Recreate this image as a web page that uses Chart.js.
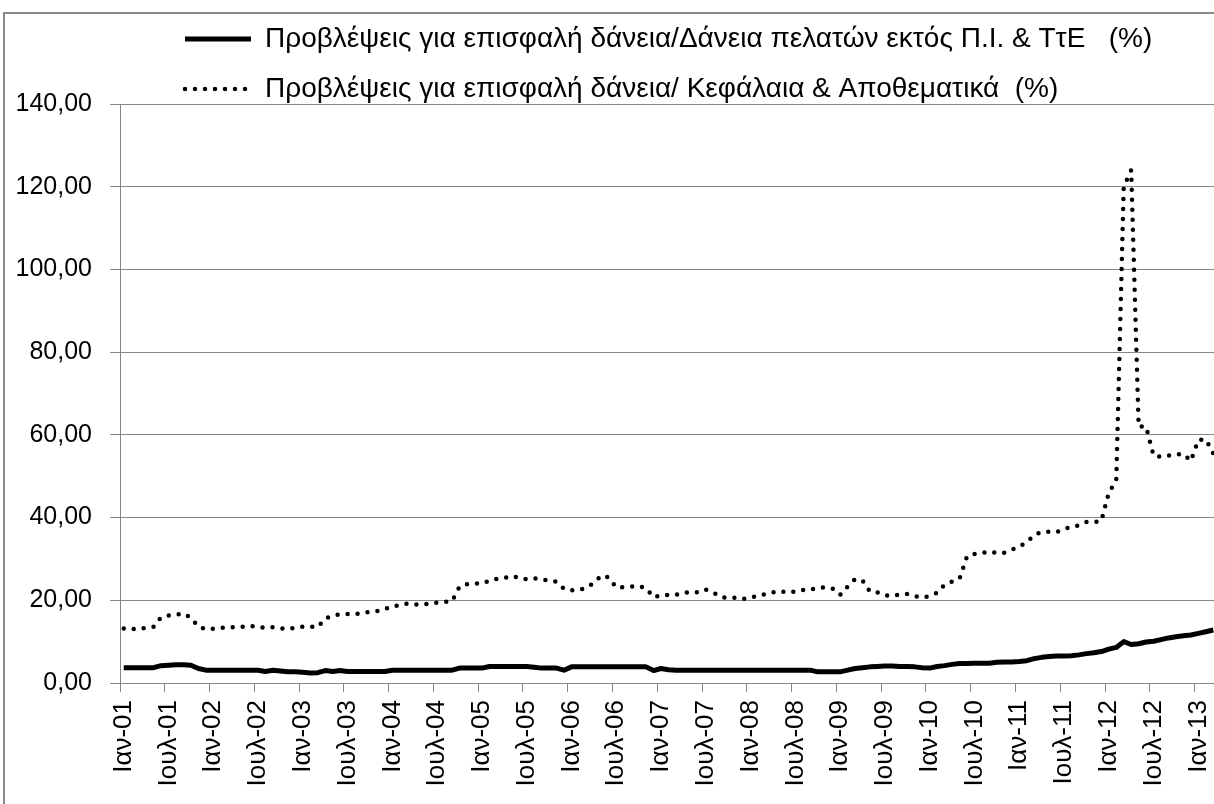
<!DOCTYPE html>
<html><head><meta charset="utf-8">
<script src="https://cdn.jsdelivr.net/npm/chart.js@4.4.1/dist/chart.umd.min.js"></script>
<style>
html,body{margin:0;padding:0;background:#fff;overflow:hidden;width:1214px;height:804px;}
#frame{position:absolute;left:3px;top:12px;width:1400px;height:1000px;border-left:2px solid #8a8a8a;border-top:2px solid #8a8a8a;}
#c{position:absolute;left:0;top:0;}
</style></head><body>
<div id="frame"></div>
<canvas id="c" width="1217" height="804"></canvas>
<script>
// ---- categories (monthly, Jan 2001 – Mar 2013) ----
const monthNames = ['Ιαν','Φεβ','Μαρ','Απρ','Μαϊ','Ιουν','Ιουλ','Αυγ','Σεπ','Οκτ','Νοε','Δεκ'];
const years = ['01','02','03','04','05','06','07','08','09','10','11','12','13'];
const monthCount = 147;

// ---- series: Προβλέψεις / Δάνεια πελατών (%) ----
const loanRatio = [
  3.7,3.7,3.7,3.7,3.7,4.2,4.3,4.4,4.4,4.3,3.5,3.1,       // 2001
  3.1,3.1,3.1,3.1,3.1,3.1,3.1,2.8,3.1,2.9,2.7,2.7,       // 2002
  2.6,2.4,2.5,3.0,2.8,3.0,2.8,2.8,2.8,2.8,2.8,2.8,       // 2003
  3.1,3.1,3.1,3.1,3.1,3.1,3.1,3.1,3.1,3.6,3.6,3.6,       // 2004
  3.6,4.0,4.0,4.0,4.0,4.0,4.0,3.8,3.6,3.6,3.6,3.1,       // 2005
  3.9,3.9,3.9,3.9,3.9,3.9,3.9,3.9,3.9,3.9,3.9,3.0,       // 2006
  3.5,3.2,3.1,3.1,3.1,3.1,3.1,3.1,3.1,3.1,3.1,3.1,       // 2007
  3.1,3.1,3.1,3.1,3.1,3.1,3.1,3.1,3.1,2.7,2.7,2.7,       // 2008
  2.7,3.1,3.5,3.7,3.9,4.0,4.1,4.1,4.0,4.0,3.9,3.7,       // 2009
  3.6,4.0,4.2,4.5,4.7,4.7,4.8,4.8,4.8,5.0,5.1,5.1,       // 2010
  5.2,5.4,5.9,6.2,6.4,6.5,6.5,6.6,6.8,7.1,7.3,7.6,       // 2011
  8.2,8.6,10.0,9.3,9.5,9.9,10.1,10.5,10.9,11.2,11.4,11.6,// 2012
  12.0,12.4,12.8                                         // 2013
];

// ---- series: Προβλέψεις / Κεφάλαια & Αποθεματικά (%) ----
const capitalRatio = [
  13.2,13.0,13.1,13.3,13.6,15.9,16.3,16.5,16.8,15.8,13.6,13.0, // 2001
  13.1,13.3,13.5,13.5,13.6,13.8,13.5,13.4,13.5,13.2,13.1,13.3, // 2002
  13.6,13.6,13.5,15.6,16.3,16.6,16.7,16.7,16.9,17.2,17.4,17.9, // 2003
  18.5,18.8,19.2,19.0,19.0,19.2,19.4,19.6,19.8,23.3,23.9,24.0, // 2004
  24.1,24.7,25.2,25.4,25.9,25.4,25.1,25.3,25.0,24.8,24.5,22.8, // 2005
  22.4,22.5,23.0,24.2,26.0,25.5,23.1,23.2,23.3,23.5,22.9,20.7, // 2006
  21.2,21.3,21.3,21.8,22.0,21.9,22.6,21.9,20.8,20.6,20.6,20.3, // 2007
  20.7,21.1,21.5,21.9,22.2,21.9,22.1,22.5,22.6,23.0,23.1,22.8, // 2008
  21.3,23.3,25.1,24.8,22.1,21.9,21.2,21.1,21.4,21.5,21.0,20.7, // 2009
  21.0,21.8,23.8,24.5,25.2,30.6,31.2,31.4,31.8,31.4,31.5,32.2, // 2010
  33.0,34.0,35.8,36.5,36.6,36.5,37.2,37.8,38.1,38.9,38.9,39.2, // 2011
  46.0,49.0,120.0,124.0,62.0,62.0,55.0,54.7,55.0,55.3,55.4,53.7,// 2012
  58.8,58.9,55.5                                               // 2013
];

const seriesNames = [
  'Προβλέψεις για επισφαλή δάνεια/Δάνεια πελατών εκτός Π.Ι. & ΤτΕ   (%)',
  'Προβλέψεις για επισφαλή δάνεια/ Κεφάλαια & Αποθεματικά  (%)'
];
const yTicks = [0, 20, 40, 60, 80, 100, 120, 140];

// build category labels
const categories = [];
for (const y of years) for (const m of monthNames) {
  if (categories.length < monthCount) categories.push(m + '-' + y);
}

const GRID = '#868686';
const FONT = "'Liberation Sans', Arial, sans-serif";

const legendPlacer = {
  id: 'legendPlacer',
  afterInit(chart) {
    const lg = chart.legend;
    if (!lg) return;
    const fit = lg.fit;
    lg.fit = function () { fit.call(this); this.height = 101; };
  },
  afterLayout(chart) {
    const lg = chart.legend;
    if (!lg) return;
    const w = lg.width;
    lg.left = 163; lg.right = 163 + w;
  }
};

new Chart(document.getElementById('c'), {
  type: 'line',
  data: {
    labels: categories,
    datasets: [
      { label: seriesNames[0], data: loanRatio, borderColor: '#000', backgroundColor: '#000',
        borderWidth: 5, pointRadius: 0, tension: 0, borderJoinStyle: 'round', borderCapStyle: 'butt', fill: false },
      { label: seriesNames[1], data: capitalRatio, borderColor: '#000', backgroundColor: '#000',
        borderWidth: 4.5, borderDash: [0, 10], borderCapStyle: 'round', borderJoinStyle: 'round',
        pointRadius: 0, tension: 0, fill: false }
    ]
  },
  options: {
    responsive: false, animation: false, devicePixelRatio: 1,
    layout: { padding: { top: 3, left: 0, right: 0, bottom: 0 } },
    plugins: {
      legend: {
        position: 'top', align: 'start',
        labels: {
          usePointStyle: true, pointStyle: 'line', pointStyleWidth: 66, padding: 22,
          color: '#000', font: { family: FONT, size: 28 },
          generateLabels(chart) {
            const items = Chart.defaults.plugins.legend.labels.generateLabels(chart);
            return items.map((it) => {
              const ds = chart.data.datasets[it.datasetIndex];
              it.lineDash = ds.borderDash || [];
              it.lineCap = ds.borderCapStyle || 'butt';
              it.lineWidth = ds.borderWidth;
              it.strokeStyle = ds.borderColor;
              it.pointStyle = 'line';
              return it;
            });
          }
        }
      },
      tooltip: { enabled: false }
    },
    scales: {
      x: {
        type: 'category', offset: true,
        grid: { offset: true, drawOnChartArea: false, tickLength: 9, color: GRID,
                tickColor: (ctx) => (ctx.index !== undefined && ctx.index % 6 === 0) ? GRID : 'rgba(0,0,0,0)' },
        border: { color: GRID, width: 1 },
        ticks: {
          autoSkip: false, minRotation: 90, maxRotation: 90, padding: 8, color: '#000',
          font: { family: FONT, size: 26 },
          callback: function (v, i) { return i % 6 === 0 ? this.getLabelForValue(v) : ''; }
        },
        afterFit(s) { s.height = 121; s.paddingLeft = 0; s.paddingRight = 0; }
      },
      y: {
        min: 0, max: 140,
        afterBuildTicks(s) { s.ticks = yTicks.map(v => ({ value: v })); },
        ticks: { padding: 18, color: '#000', font: { family: FONT, size: 25 },
                 callback: (v) => Number(v).toFixed(2).replace('.', ',') },
        grid: { color: GRID, tickLength: 10, tickColor: GRID, lineWidth: 1 },
        border: { color: GRID, width: 1 },
        afterFit(s) { s.width = 120; }
      }
    }
  },
  plugins: [legendPlacer]
});
</script>
</body></html>
